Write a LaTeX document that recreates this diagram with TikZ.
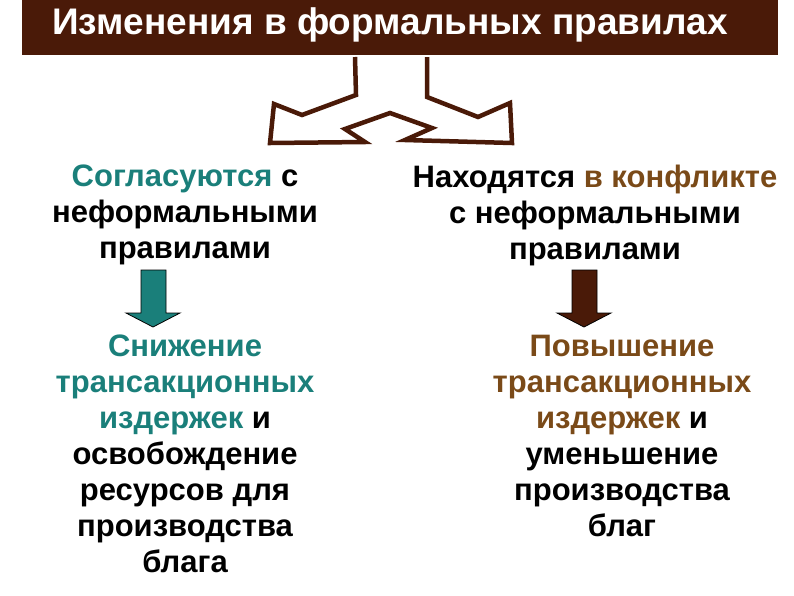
\documentclass[tikz,border=0pt]{standalone}
\usepackage{fontspec}
\setmainfont{Liberation Sans}
\definecolor{dbrown}{HTML}{4A1A08}
\definecolor{tealc}{HTML}{1A7F7A}
\definecolor{lbrown}{HTML}{7A4A18}
\begin{document}
\begin{tikzpicture}[x=1pt,y=-1pt,
  txt/.style={align=center,font=\fontsize{31}{36}\selectfont\bfseries},
  darr/.style={draw=black,line width=0.8pt}]
\useasboundingbox (0,0) rectangle (794,595);
\fill[dbrown] (22,0) rectangle (778,55);
\node[font=\fontsize{37}{40}\selectfont\bfseries,text=white] (title) at (390,25) {Изменения в формальных правилах};
\draw[dbrown,line width=4.5pt,line join=miter] (355,57) -- (356,95) -- (302,115) -- (274,104) -- (270,143) -- (365,142) -- (345,129) -- (390,113) -- (432,128) -- (405,140) -- (512,143) -- (510,103) -- (478,117) -- (427,97) -- (427,57);
\node[txt] (l1) at (185,215) {{\color{tealc}Согласуются} с\\неформальными\\правилами};
\node[txt] (r1) at (595,215) {Находятся {\color{lbrown}в конфликте}\\с неформальными\\правилами};
\node[txt] (l2) at (185,454) {{\color{tealc}Снижение}\\{\color{tealc}трансакционных}\\{\color{tealc}издержек} и\\освобождение\\ресурсов для\\производства\\блага};
\node[txt] (r2) at (622,436) {{\color{lbrown}Повышение}\\{\color{lbrown}трансакционных}\\{\color{lbrown}издержек} и\\уменьшение\\производства\\благ};
\draw[darr,fill=tealc] (141,270) -- (166,270) -- (166,313) -- (180,313) -- (153,327) -- (126,313) -- (141,313) -- cycle;
\draw[darr,fill=dbrown] (572,270) -- (597,270) -- (597,313) -- (611,313) -- (584,327) -- (557,313) -- (572,313) -- cycle;
\end{tikzpicture}
\end{document}
